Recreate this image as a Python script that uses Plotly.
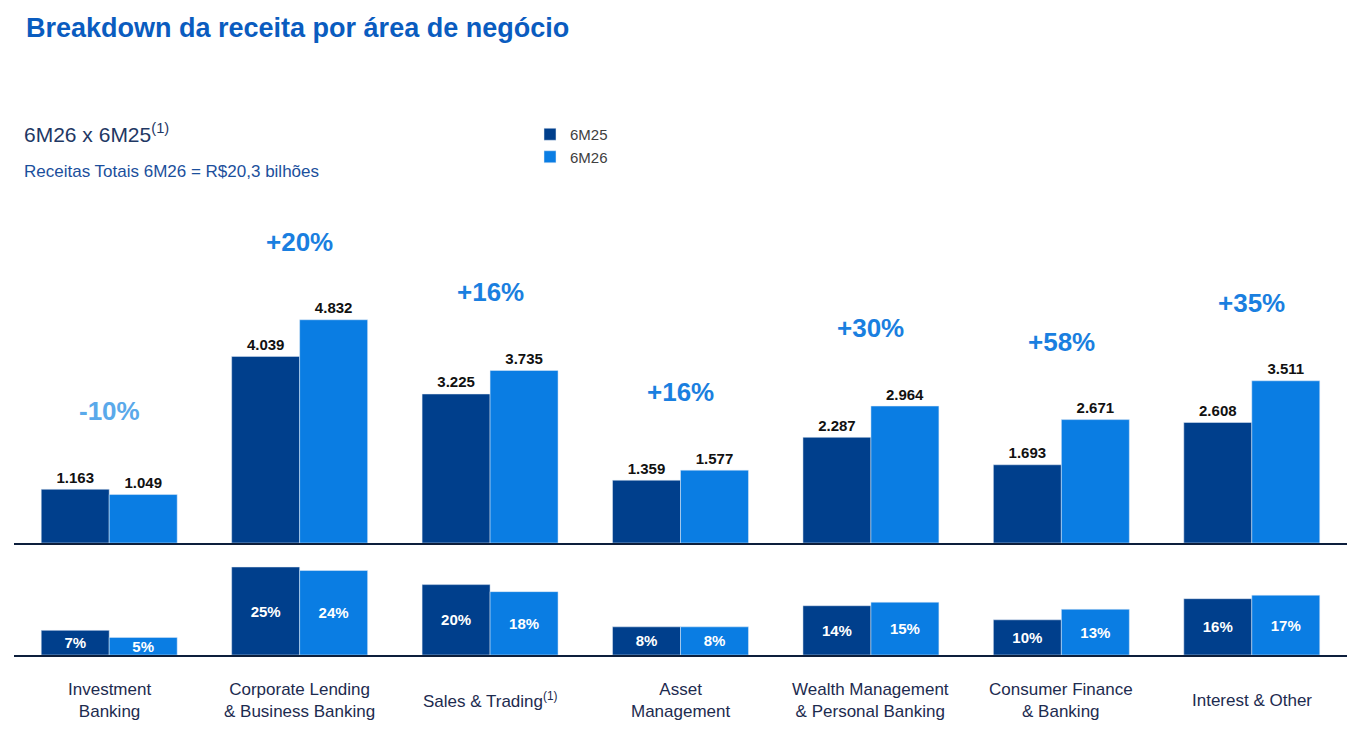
import plotly.graph_objects as go
from plotly.subplots import make_subplots

categories = ["Investment<br>Banking", "Corporate Lending<br>& Business Banking",
              "Sales & Trading<sup>(1)</sup>", "Asset<br>Management",
              "Wealth Management<br>& Personal Banking", "Consumer Finance<br>& Banking",
              "Interest & Other"]
rev_6m25 = [1.163, 4.039, 3.225, 1.359, 2.287, 1.693, 2.608]
rev_6m26 = [1.049, 4.832, 3.735, 1.577, 2.964, 2.671, 3.511]
share_6m25 = [7, 25, 20, 8, 14, 10, 16]
share_6m26 = [5, 24, 18, 8, 15, 13, 17]
growth = ["-10%", "+20%", "+16%", "+16%", "+30%", "+58%", "+35%"]

DARK = "#003f8c"
LIGHT = "#0a7de3"
FONT = "Liberation Sans, Arial, sans-serif"
H = 734
W = 1366
OFF = 8  # page body margin

def py(px):
    return 1 - (px - OFF) / H

def pxx(px):
    return (px - OFF) / W

fig = make_subplots(rows=2, cols=1, shared_xaxes=True)
x = list(range(len(categories)))

def fmt(v):
    return f"<b>{v:.3f}</b>"

fig.add_trace(go.Bar(x=x, y=rev_6m25, name="6M25", marker_color=DARK,
                     text=[fmt(v) for v in rev_6m25], textposition="outside",
                     textfont=dict(size=17, color="#111111", family=FONT), cliponaxis=False), row=1, col=1)
fig.add_trace(go.Bar(x=x, y=rev_6m26, name="6M26", marker_color=LIGHT,
                     text=[fmt(v) for v in rev_6m26], textposition="outside",
                     textfont=dict(size=17, color="#111111", family=FONT), cliponaxis=False), row=1, col=1)
fig.add_trace(go.Bar(x=x, y=share_6m25, marker_color=DARK, showlegend=False,
                     text=[f"<b>{v}%</b>" for v in share_6m25], textposition="inside",
                     insidetextanchor="middle", textangle=0,
                     textfont=dict(size=15, color="white", family=FONT)), row=2, col=1)
fig.add_trace(go.Bar(x=x, y=share_6m26, marker_color=LIGHT, showlegend=False,
                     text=[f"<b>{v}%</b>" for v in share_6m26], textposition="inside",
                     insidetextanchor="middle", textangle=0,
                     textfont=dict(size=15, color="white", family=FONT)), row=2, col=1)

for i, g in enumerate(growth):
    fig.add_annotation(x=i, y=max(rev_6m25[i], rev_6m26[i]), xref="x", yref="y",
                       text=f"<b>{g}</b>", showarrow=False, yshift=78,
                       font=dict(size=26, family=FONT,
                                 color="#5aa9ea" if g.startswith("-") else "#1a7fe0"))
    fig.add_annotation(x=i, y=py(700), xref="x", yref="paper", yanchor="middle",
                       text=categories[i], showarrow=False,
                       font=dict(size=17, family=FONT, color="#1d2b4f"))

fig.add_annotation(x=pxx(24), y=py(28), xref="paper", yref="paper", xanchor="left",
                   yanchor="middle", text="<b>Breakdown da receita por área de negócio</b>",
                   showarrow=False, font=dict(size=27, family=FONT, color="#0a5cbf"))
fig.add_annotation(x=pxx(22), y=py(133), xref="paper", yref="paper", xanchor="left",
                   yanchor="middle", text="6M26 x 6M25<sup>(1)</sup>", showarrow=False,
                   font=dict(size=21, family=FONT, color="#1f3864"))
fig.add_annotation(x=pxx(22), y=py(171), xref="paper", yref="paper", xanchor="left",
                   yanchor="middle", text="Receitas Totais 6M26 = R$20,3 bilhões", showarrow=False,
                   font=dict(size=17, family=FONT, color="#1b4f9c"))

fig.update_layout(
    width=W, height=H, margin=dict(l=0, r=0, t=0, b=0),
    plot_bgcolor="white", paper_bgcolor="white",
    barmode="group", bargap=0.286, bargroupgap=0,
    font=dict(family=FONT),
    legend=dict(x=pxx(530), y=py(118), xanchor="left", yanchor="top",
                font=dict(size=15, color="#404040"), tracegroupgap=4),
    uniformtext=dict(minsize=14, mode="show"),
)
xa = dict(range=[-0.5, 6.5], showticklabels=False, showgrid=False, zeroline=False,
          showline=True, linecolor="#0d1f3c", linewidth=2, ticks="")
fig.update_xaxes(**xa, domain=[pxx(14), pxx(1347)])
fig.update_yaxes(visible=False, showgrid=False)
fig.update_yaxes(range=[0, (543 - 100) / 46.2], domain=[py(543), py(100)], row=1, col=1)
fig.update_yaxes(range=[0, 110 / 3.52], domain=[py(655), py(545)], row=2, col=1)

fig.write_html("out.html")
